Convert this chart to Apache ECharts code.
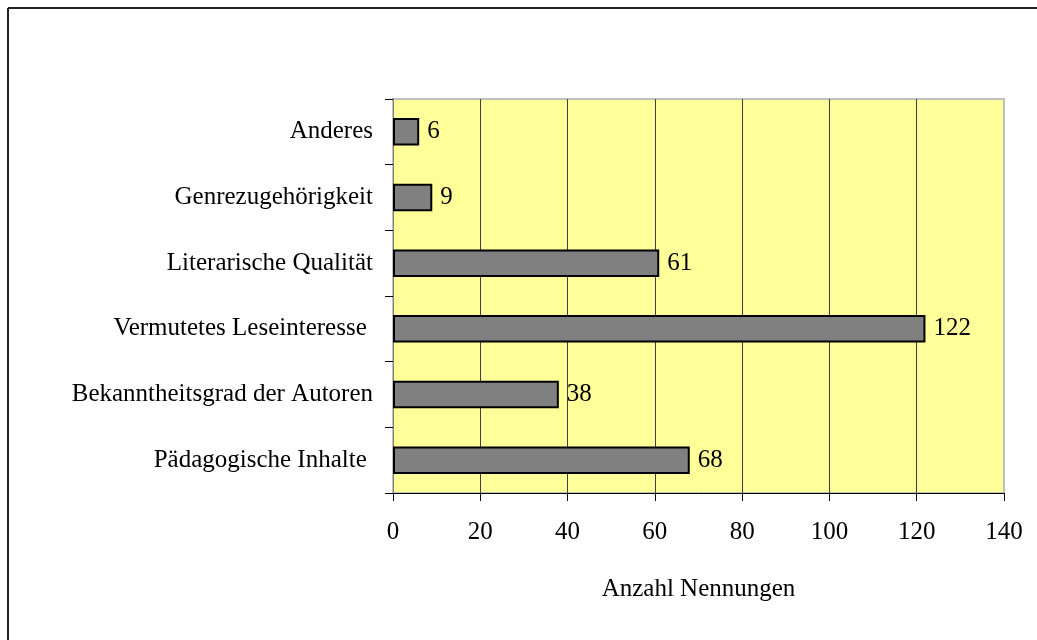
<!DOCTYPE html>
<html><head><meta charset="utf-8">
<script src="https://cdn.jsdelivr.net/npm/echarts@6/dist/echarts.min.js"></script>
<style>html,body{margin:0;padding:0;background:#fff}#c{width:1037px;height:640px}</style>
</head><body><div id="c"></div>
<script>
const categories = ["Anderes", "Genrezugehörigkeit", "Literarische Qualität", "Vermutetes Leseinteresse ", "Bekanntheitsgrad der Autoren", "Pädagogische Inhalte "];
const values = [6, 9, 61, 122, 38, 68];
const xTicks = [0, 20, 40, 60, 80, 100, 120, 140];
const xTitle = "Anzahl Nennungen";

const FONT = '"Liberation Serif", "DejaVu Serif", serif';
const FS = 25;
const chart = echarts.init(document.getElementById('c'), null, {renderer: 'canvas'});
const G = {left: 393, top: 99, width: 611, height: 394};
chart.setOption({
  animation: false,
  textStyle: {fontFamily: FONT},
  grid: {left: G.left, top: G.top, width: G.width, height: G.height, show: true,
         backgroundColor: '#FFFF99', borderColor: '#C0C0C0', borderWidth: 2},
  xAxis: {
    type: 'value', min: xTicks[0], max: xTicks[xTicks.length-1], interval: 20,
    axisLine: {show: true, lineStyle: {color: '#000', width: 1}},
    axisTick: {show: true, length: 8, lineStyle: {color: '#000'}},
    axisLabel: {color: '#000', fontSize: FS, fontFamily: FONT, margin: 27},
    splitLine: {show: true, lineStyle: {color: '#404040', width: 1}},
    name: xTitle, nameLocation: 'middle', nameGap: 84,
    nameTextStyle: {color: '#000', fontSize: FS, fontFamily: FONT}
  },
  yAxis: {
    type: 'category', data: categories, inverse: true,
    axisLine: {show: true, lineStyle: {color: '#808080', width: 1}},
    axisTick: {show: true, length: 8, inside: false, lineStyle: {color: '#000'}},
    axisLabel: {color: '#000', fontSize: FS, fontFamily: FONT, margin: 20},
    splitLine: {show: false}
  },
  series: [{
    type: 'bar', data: values, barWidth: '42%',
    itemStyle: {color: '#808080', borderColor: '#000', borderWidth: 2},
    label: {show: true, position: 'right', distance: 8, color: '#000', fontSize: FS, fontFamily: FONT}
  }],
  graphic: [
    {type: 'line', shape: {x1: 8, y1: 8, x2: 1037, y2: 8}, style: {stroke: '#222', lineWidth: 2}, z: 100},
    {type: 'line', shape: {x1: 8, y1: 8, x2: 8, y2: 640}, style: {stroke: '#222', lineWidth: 2}, z: 100},
    {type: 'line', shape: {x1: G.left + G.width, y1: G.top, x2: G.left + G.width, y2: G.top + G.height}, style: {stroke: '#C0C0C0', lineWidth: 2}, z: 100}
  ]
});
</script></body></html>
